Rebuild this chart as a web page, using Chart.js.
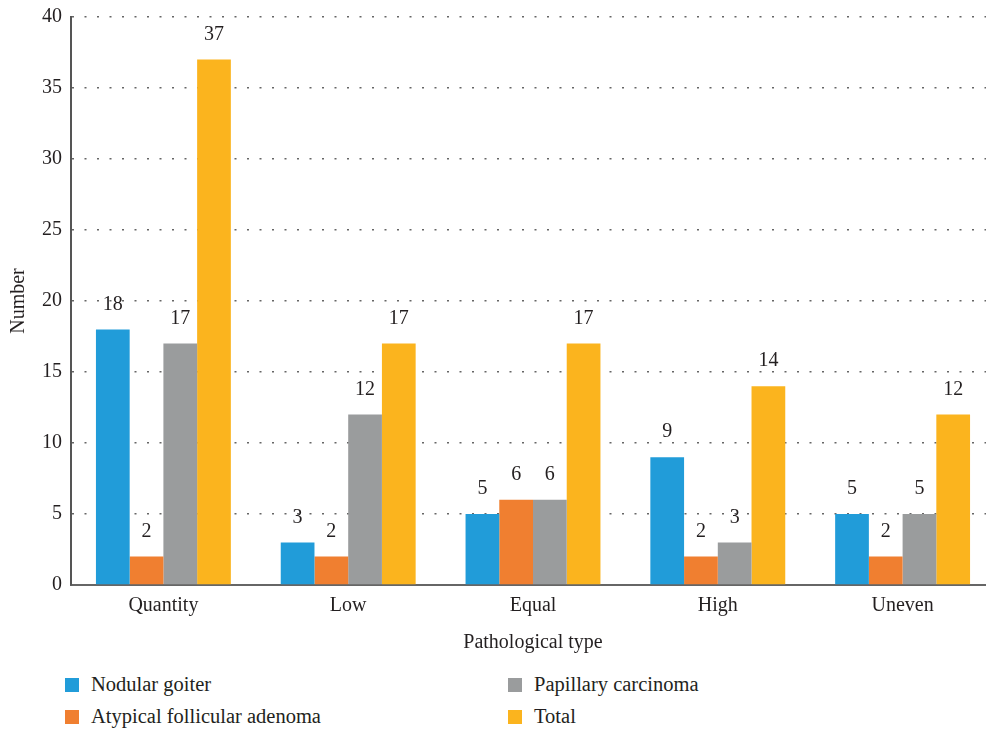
<!DOCTYPE html>
<html>
<head>
<meta charset="utf-8">
<script src="https://cdn.jsdelivr.net/npm/chart.js@4/dist/chart.umd.min.js"></script>
<style>
  html, body { margin: 0; padding: 0; background: #fff; overflow: hidden; }
  #wrap { position: relative; width: 986px; height: 729px; overflow: hidden; }
  canvas { position: absolute; left: 0; top: -4px; }
  #legend { position: absolute; left: 0; top: 673px; width: 986px; font-family: "Liberation Serif", "DejaVu Serif", serif; font-size: 20.5px; color: #231f20; }
  .item { position: absolute; display: flex; align-items: center; }
  .box { width: 14px; height: 14px; margin-right: 12px; }
</style>
</head>
<body>
<div id="wrap">
  <canvas id="chart" width="995" height="664"></canvas>
  <div id="legend"></div>
</div>
<script>
const categories = ["Quantity", "Low", "Equal", "High", "Uneven"];
const nodular = [18, 3, 5, 9, 5];
const atypical = [2, 2, 6, 2, 2];
const papillary = [17, 12, 6, 3, 5];
const total = [37, 17, 17, 14, 12];
const yTicks = [0, 5, 10, 15, 20, 25, 30, 35, 40];

const seriesNames = ["Nodular goiter", "Atypical follicular adenoma", "Papillary carcinoma", "Total"];
const seriesColors = ["#219cd9", "#f07f30", "#9a9c9d", "#fbb41e"];
const seriesData = [nodular, atypical, papillary, total];

const serif = "'Liberation Serif', 'DejaVu Serif', serif";

// value labels above each bar
const valueLabels = {
  id: "valueLabels",
  afterDatasetsDraw(chart) {
    const ctx = chart.ctx;
    ctx.save();
    ctx.font = "20px " + serif;
    ctx.fillStyle = "#231f20";
    ctx.textAlign = "center";
    ctx.textBaseline = "middle";
    chart.data.datasets.forEach((ds, i) => {
      chart.getDatasetMeta(i).data.forEach((bar, j) => {
        ctx.fillText(ds.data[j], bar.x, bar.y - 25);
      });
    });
    ctx.restore();
  },
};

const chart = new Chart(document.getElementById("chart"), {
  type: "bar",
  data: {
    labels: categories,
    datasets: seriesData.map((d, i) => ({
      label: seriesNames[i],
      data: d,
      backgroundColor: seriesColors[i],
      borderWidth: 0,
      barPercentage: 1,
      categoryPercentage: 0.73,
    })),
  },
  options: {
    responsive: false,
    animation: false,
    devicePixelRatio: 1,
    layout: { padding: { top: 10, right: 0, left: 0, bottom: 0 } },
    plugins: { legend: { display: false }, tooltip: { enabled: false } },
    scales: {
      x: {
        grid: { display: false },
        border: { color: "#666", width: 2 },
        ticks: { color: "#231f20", font: { family: serif, size: 20 }, padding: 1 },
        title: { display: true, text: "Pathological type", color: "#231f20", font: { family: serif, size: 20 }, padding: { top: 0, bottom: 5 } },
        afterFit: (s) => { s.height = 75; },
      },
      y: {
        min: 0,
        max: 40,
        afterBuildTicks: (s) => { s.ticks = yTicks.map((v) => ({ value: v })); },
        grid: { color: "#666", lineWidth: 1.6, drawTicks: false },
        border: { color: "#555", width: 2, dash: [2, 10.5] },
        ticks: { color: "#231f20", font: { family: serif, size: 20 }, padding: 9 },
        title: { display: true, text: "Number", color: "#231f20", font: { family: serif, size: 20 }, padding: { bottom: 0, top: 7 } },
        afterFit: (s) => { s.width = 71; },
      },
    },
  },
  plugins: [valueLabels],
});

// legend in two columns
const legend = document.getElementById("legend");
const spots = [[65, 0], [65, 32], [508, 0], [508, 32]];
seriesNames.forEach((name, i) => {
  const item = document.createElement("div");
  item.className = "item";
  item.style.left = spots[i][0] + "px";
  item.style.top = spots[i][1] + "px";
  item.innerHTML = `<span class="box" style="background:${seriesColors[i]}"></span><span>${name}</span>`;
  legend.appendChild(item);
});
</script>
</body>
</html>
